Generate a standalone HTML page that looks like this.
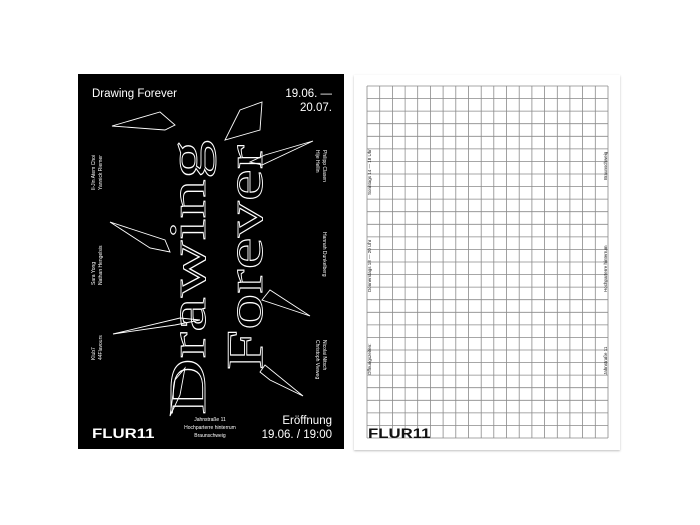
<!DOCTYPE html>
<html><head><meta charset="utf-8"><style>
html,body{margin:0;padding:0;background:#fff;}
body{width:700px;height:525px;position:relative;overflow:hidden;font-family:"Liberation Sans",sans-serif;}
.card{position:absolute;}
</style></head><body>
<div class="card" style="left:78px;top:74px;width:266px;height:375px;background:#000;"></div>
<div class="card" style="left:354px;top:75px;width:266px;height:375px;background:#fff;box-shadow:0 1px 2px rgba(0,0,0,0.25);"></div>

<svg width="700" height="525" style="position:absolute;left:0;top:0" xmlns="http://www.w3.org/2000/svg">
  <g fill="#fff" font-family="Liberation Sans, sans-serif">
    <text x="92" y="97" font-size="11.5">Drawing Forever</text>
    <text x="332" y="97" font-size="11.5" text-anchor="end">19.06. —</text>
    <text x="332" y="111" font-size="11.5" text-anchor="end">20.07.</text>
    <text x="332" y="424" font-size="11.5" text-anchor="end">Eröffnung</text>
    <text x="332" y="438" font-size="11.5" text-anchor="end">19.06. / 19:00</text>
    <text x="210" y="421" font-size="5" text-anchor="middle">Jahnstraße 11</text>
    <text x="210" y="429" font-size="5" text-anchor="middle">Hochparterre hinterrum</text>
    <text x="210" y="437" font-size="5" text-anchor="middle">Braunschweig</text>
    <text x="92" y="438" font-size="14" font-weight="bold" transform="translate(92 438) scale(1.2 1) translate(-92 -438)">FLUR11</text>
    <g font-size="5">
      <text transform="translate(95 190) rotate(-90)">Il-Jin Atem Choi</text>
      <text transform="translate(102 190) rotate(-90)">Yannick Riemer</text>
      <text transform="translate(95 285) rotate(-90)">Sara Yong</text>
      <text transform="translate(102 285) rotate(-90)">Nathan Hengelsis</text>
      <text transform="translate(95 360) rotate(-90)">Klub7</text>
      <text transform="translate(102 360) rotate(-90)">44Flavours</text>
      <text transform="translate(323 150) rotate(90)">Philipp Clasen</text>
      <text transform="translate(316 150) rotate(90)">Hije Hellin</text>
      <text transform="translate(323 232) rotate(90)">Hannah Dunkelberg</text>
      <text transform="translate(323 340) rotate(90)">Nicolai Nitsch</text>
      <text transform="translate(316 340) rotate(90)">Christoph Vieweg</text>
    </g>
  </g>
  <g fill="none" stroke="#fff" stroke-width="0.9" font-family="Liberation Serif, serif" font-size="52">
    <text transform="translate(205 415) rotate(-90)" textLength="275" lengthAdjust="spacingAndGlyphs">Drawing</text>
    <text transform="translate(262 370) rotate(-90)" textLength="225" lengthAdjust="spacingAndGlyphs">Forever</text>
  </g>
  <g fill="none" stroke="#fff" stroke-width="0.9">
    <polygon points="112,126 160,112 175,125 165,130"/>
    <polygon points="260,130 262,102 240,110 225,140"/>
    <polygon points="313,141 265,155 250,162 262,165"/>
    <polygon points="110,222 165,240 170,252 150,248"/>
    <polygon points="113,334 180,318 200,320 175,325"/>
    <polygon points="310,316 270,290 262,300 280,306"/>
    <polygon points="303,396 265,365 260,372 270,380"/>
    <polygon points="170,416 175,380 185,368 180,395"/>
  </g>

  <g stroke="#8a8a8a" stroke-width="0.8">
    <path id="grid" d=""/>
  </g>
  <g fill="#222" font-family="Liberation Sans, sans-serif" font-size="4.5">
    <text transform="translate(371 195) rotate(-90)">Sonntags 14 — 18 Uhr</text>
    <text transform="translate(371 292) rotate(-90)">Donnerstags 18 — 20 Uhr</text>
    <text transform="translate(371 375) rotate(-90)">Öffnungszeiten:</text>
    <text transform="translate(607 180) rotate(-90)">Braunschweig</text>
    <text transform="translate(607 292) rotate(-90)">Hochparterre hinterrum</text>
    <text transform="translate(607 375) rotate(-90)">Jahnstraße 11</text>
    <text x="368" y="438" font-size="14" font-weight="bold" fill="#111" transform="translate(368 438) scale(1.2 1) translate(-368 -438)">FLUR11</text>
  </g>
</svg>
<script>
(function(){
  var x0=367,x1=608,y0=86,y1=438,nc=19,nr=28,d="";
  for(var i=0;i<=nc;i++){var x=x0+(x1-x0)*i/nc;d+="M"+x.toFixed(1)+" "+y0+"V"+y1;}
  for(var j=0;j<=nr;j++){var y=y0+(y1-y0)*j/nr;d+="M"+x0+" "+y.toFixed(1)+"H"+x1;}
  document.getElementById("grid").setAttribute("d",d);
})();
</script>
</body></html>
